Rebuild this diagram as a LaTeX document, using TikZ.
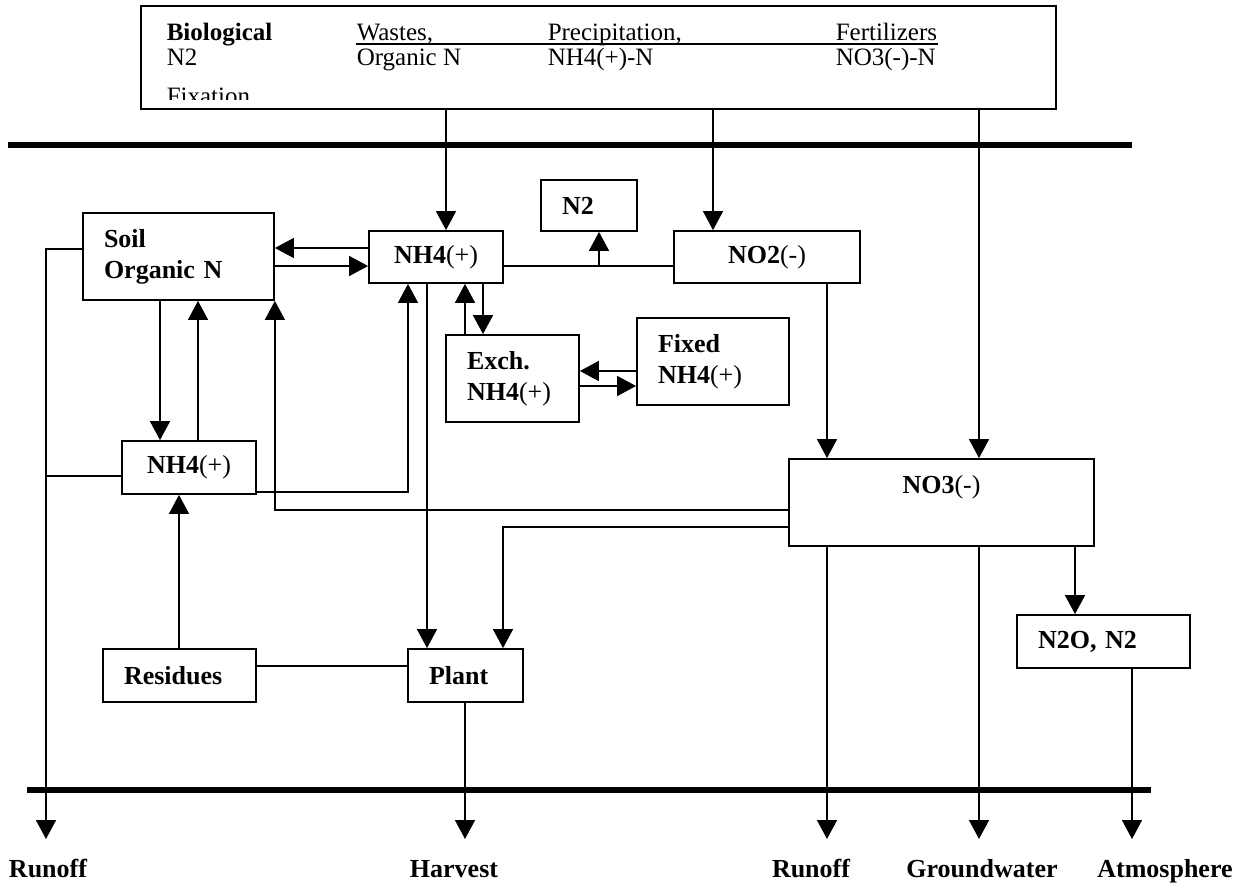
\documentclass[tikz,border=0pt]{standalone}
\usepackage{fontspec}
\setmainfont{Liberation Serif}
\usepackage{tikz}
\usetikzlibrary{arrows.meta}

\begin{document}
\begin{tikzpicture}[x=0.5pt,y=-0.5pt,line width=0.75pt,
    >={Triangle[length=9.5pt,width=10pt]},
    pool/.style={draw,line width=0.9pt,inner ysep=0pt,inner xsep=10.5pt,align=left,
      font=\bfseries\fontsize{13}{15.5}\selectfont},
    cpool/.style={pool,align=center,inner xsep=0pt},
    intext/.style={anchor=base west,inner sep=0pt,font=\fontsize{12.5}{14}\selectfont},
    sink/.style={anchor=base,inner sep=0pt,font=\bfseries\fontsize{13}{15}\selectfont},
    bar/.style={line width=3pt}]
     \useasboundingbox (0,0) rectangle (1241,883);
     % inputs
     \node [draw,line width=0.9pt,minimum width=457.5pt,minimum height=51.5pt] (src) at (598.5,57.5) {};
     \begin{scope}
       \clip (141,6) rectangle (1056,100);
       \node [intext] (bioA) at (166,41) {\textbf{Biological}};
       \node [intext] (bioB) at (166,65.5) {N2};
       \node [intext] (bioC) at (166,104.5) {Fixation};
       \node [intext] (wasA) at (356,41) {Wastes,};
       \node [intext] (wasB) at (356,65.5) {Organic N};
       \node [intext] (preA) at (547,41) {Precipitation,};
       \node [intext] (preB) at (547,65.5) {NH4(+)-N};
       \node [intext] (ferA) at (835,41) {Fertilizers};
       \node [intext] (ferB) at (835,65.5) {NO3(-)-N};
     \end{scope}
     \draw [line width=1pt] ([yshift=-1.5pt]wasA.base west) -- ([yshift=-1.5pt]wasA.base west -| ferA.base east);
     \draw [bar] (8,145) -- (1132,145);
     \draw [bar] (27,790) -- (1151,790);

     % pools
     \node [pool,text width=27pt,minimum height=25.5pt] (N2) at (589,205.5) {N2};
     \node [cpool,minimum width=67pt,minimum height=26pt] (NH4a) at (436,257) {NH4\textmd{(+)}};
     \node [cpool,minimum width=93pt,minimum height=26pt] (NO2) at (767,257) {NO2\textmd{(-)}};
     \node [pool,text width=74.5pt,minimum height=43.5pt] (Soil) at (178.5,256.5) {Soil\\Organic N};
     \node [pool,text width=45.5pt,minimum height=43.5pt] (Exch) at (512.5,378.5) {Exch.\\NH4\textmd{(+)}};
     \node [pool,text width=55pt,minimum height=43.5pt] (Fixed) at (713,361.5) {Fixed\\NH4\textmd{(+)}};
     \node [cpool,minimum width=67pt,minimum height=26.5pt] (NH4b) at (189,467.5) {NH4\textmd{(+)}};
     \node [cpool,minimum width=152.5pt,minimum height=43.5pt,text depth=18pt] (NO3) at (941.5,502.5) {NO3\textmd{(-)}};
     \node [pool,text width=65.5pt,minimum height=26.5pt] (N2O) at (1103.5,641.5) {N2O, N2};
     \node [pool,text width=55.5pt,minimum height=26.5pt] (Residues) at (179.5,675.5) {Residues};
     \node [pool,text width=36.5pt,minimum height=26.5pt] (Plant) at (465.5,675.5) {Plant};

     % outputs
     \coordinate (runtip) at (46,839);
     \node [sink] (runoffA) at (48,877) {Runoff};
     \node [sink] (harvest) at (454,877) {Harvest};
     \node [sink] (runoffB) at (811,877) {Runoff};
     \node [sink] (ground) at (982,877) {Groundwater};
     \node [sink] (atmos) at (1165,877) {Atmosphere};

     % flows
     \draw [->] ([xshift=5pt]NH4a.north |- src.south) -- ([xshift=5pt]NH4a.north);
     \draw [->] ([xshift=-27pt]NO2.north |- src.south) -- ([xshift=-27pt]NO2.north);
     \draw [->] ([xshift=18.75pt]NO3.north |- src.south) -- ([xshift=18.75pt]NO3.north);
     \draw [->] ([yshift=4.5pt]NH4a.west) -- ([yshift=4.5pt]NH4a.west -| Soil.east);
     \draw [->] ([yshift=-4.5pt]NH4a.west -| Soil.east) -- ([yshift=-4.5pt]NH4a.west);
     \draw ([yshift=-4.5pt]NH4a.east) -- ([yshift=-4.5pt]NH4a.east -| NO2.west);
     \draw [->] ([xshift=5pt,yshift=-4.5pt]N2.south |- NH4a.east) -- ([xshift=5pt]N2.south);
     \draw [->] ([yshift=3.75pt]Soil.west) -| (runtip);
     \draw ([yshift=-4.25pt]NH4b.west) -- ([yshift=-4.25pt]NH4b.west -| runtip);
     \draw [->] ([xshift=-9.25pt]Soil.south) -- ([xshift=-9.25pt]Soil.south |- NH4b.north);
     \draw [->] ([xshift=4.5pt]NH4b.north) -- ([xshift=4.5pt]NH4b.north |- Soil.south);
     \draw [->] ([yshift=-3.75pt]NO3.west) -| (Soil.south east);
     \draw [->] ([yshift=-12.25pt]NH4b.east) -| ([xshift=-14pt]NH4a.south);
     \draw [->] ([xshift=-4.5pt]NH4a.south) -- ([xshift=-4.5pt]NH4a.south |- Plant.north);
     \draw [->] ([xshift=-23.75pt]Exch.north) -- ([xshift=-23.75pt]Exch.north |- NH4a.south);
     \draw [->] ([xshift=23.5pt]NH4a.south) -- ([xshift=23.5pt]NH4a.south |- Exch.north);
     \draw [->] ([yshift=-4.75pt]Fixed.west) -- ([yshift=-4.75pt]Fixed.west -| Exch.east);
     \draw [->] ([yshift=-12.25pt]Fixed.west -| Exch.east) -- ([yshift=-12.25pt]Fixed.west);
     \draw [->] ([xshift=30pt]NO2.south) -- ([xshift=30pt]NO2.south |- NO3.north);
     \draw [->] ([yshift=-12.25pt]NO3.west) -| ([xshift=18.75pt]Plant.north);
     \draw [->] ([xshift=-0.25pt]Residues.north) -- ([xshift=-0.25pt]Residues.north |- NH4b.south);
     \draw ([yshift=4.75pt]Residues.east) -- ([yshift=4.75pt]Residues.east -| Plant.west);
     \draw [->] ([xshift=-0.25pt]Plant.south) -- ([xshift=-0.25pt]Plant.south |- runtip);
     \draw [->] ([xshift=-57.25pt]NO3.south) -- ([xshift=-57.25pt]NO3.south |- runtip);
     \draw [->] ([xshift=18.75pt]NO3.south) -- ([xshift=18.75pt]NO3.south |- runtip);
     \draw [->] ([xshift=66.75pt]NO3.south) -- ([xshift=66.75pt]NO3.south |- N2O.north);
     \draw [->] ([xshift=14.25pt]N2O.south) -- ([xshift=14.25pt]N2O.south |- runtip);
 \end{tikzpicture}
\end{document}
